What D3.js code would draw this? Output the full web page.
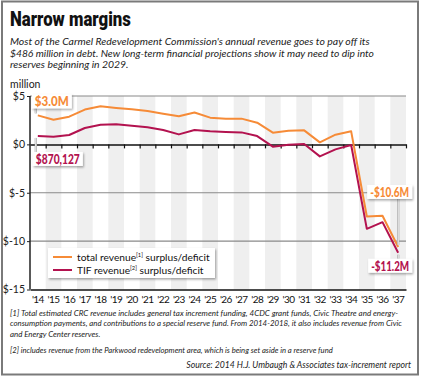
<!DOCTYPE html>
<html><head><meta charset="utf-8">
<script src="https://cdn.jsdelivr.net/npm/d3@7"></script>
<style>
body{margin:0;background:#fff;}
svg{display:block;font-family:Lato,"Open Sans",sans-serif;}
</style></head><body>
<svg id="c" width="423" height="378"></svg>
<script>
const years = ["'14","'15","'16","'17","'18","'19","'20","'21","'22","'23","'24","'25","'26","'27","'28","'29","'30","'31","'32","'33","'34","'35","'36","'37"];
const totalRevenue = [3.0,2.55,2.86,3.6,3.93,3.76,3.62,3.45,3.17,2.9,3.3,2.76,2.66,2.66,2.24,1.21,1.41,1.45,0.21,1.0,1.35,-7.45,-7.38,-10.6];
const tifRevenue = [0.87,0.8,0.97,1.69,2.03,2.07,1.93,1.76,1.48,1.03,1.48,1.35,1.28,1.24,0.86,-0.24,-0.03,0.03,-1.24,-0.52,-0.07,-8.73,-8.04,-11.2];
const yTicks = [5,0,-5,-10,-15];
const title = "Narrow margins";
const subtitle = ["Most of the Carmel Redevelopment Commission's annual revenue goes to pay off its",
 "$486 million in debt. New long-term financial projections show it may need to dip into",
 "reserves beginning in 2029."];
const notes1 = ["[1] Total estimated CRC revenue includes general tax increment funding, 4CDC grant funds, Civic Theatre and energy-",
 "consumption payments, and contributions to a special reserve fund. From 2014-2018, it also includes revenue from Civic",
 "and Energy Center reserves."];
const note2 = "[2] includes revenue from the Parkwood redevelopment area, which is being set aside in a reserve fund";
const source = "Source: 2014 H.J. Umbaugh & Associates tax-increment report";
const callouts = [
 {series:"total", idx:0, text:"$3.0M"},
 {series:"tif", idx:0, text:"$870,127"},
 {series:"total", idx:23, text:"-$10.6M"},
 {series:"tif", idx:23, text:"-$11.2M"}
];

const ORANGE="#f68b37", CRIMSON="#b3124f";
const svg = d3.select("#c");
const defs = svg.append("defs");
const f = defs.append("filter").attr("id","sh").attr("x","-20%").attr("y","-30%").attr("width","150%").attr("height","180%");
f.append("feDropShadow").attr("dx",1).attr("dy",1.5).attr("stdDeviation",1.2).attr("flood-color","#000").attr("flood-opacity",0.35);

function fit(sel, target){
 const n = sel.node(); const s = +sel.attr("font-size");
 const w = n.getComputedTextLength();
 if (w>0) sel.attr("font-size", (s*target/w).toFixed(2));
 return sel;
}

// frame
svg.append("rect").attr("x",2).attr("y",1.5).attr("width",416).attr("height",373).attr("fill","none").attr("stroke","#7a7a7a").attr("stroke-width",2);

// title (horizontally condensed to match reference)
{
 const t = svg.append("text").attr("x",0).attr("y",0).attr("font-family","Roboto,Lato,sans-serif").attr("font-weight",900).attr("font-size",21).attr("fill","#111").text(title);
 const w = t.node().getComputedTextLength();
 t.attr("transform",`translate(10,26) scale(${121/w},1)`);
}
const subW=[360,364,117];
svg.append("g").selectAll("text").data(subtitle).join("text")
 .attr("x",10).attr("y",(d,i)=>45+i*11.6).attr("font-size",11).attr("font-style","italic").attr("fill","#222").text(d=>d)
 .each(function(d,i){ if(i<2) fit(d3.select(this),subW[i]); else d3.select(this).attr("font-size",10.4); });

const L=30, R=406, T=96, B=289.5;
const x = d3.scaleBand().domain(years).range([L,R]).padding(0);
const xi = d3.scaleLinear().domain([0,years.length]).range([L,R]);
const y = d3.scaleLinear().domain([-15,5]).range([B,T]);

// bands
svg.append("g").selectAll("rect").data(years.filter((d,i)=>i%2===1)).join("rect")
 .attr("x",d=>x(d)).attr("y",T).attr("width",x.bandwidth()).attr("height",B-T).attr("fill","#efefef");

// grid
svg.append("g").selectAll("line").data([5,-5,-10]).join("line")
 .attr("x1",L).attr("x2",R).attr("y1",d=>y(d)).attr("y2",d=>y(d)).attr("stroke","#8a8a8a").attr("stroke-width",1.2);

svg.append("text").attr("x",10).attr("y",88).attr("font-size",10.5).attr("fill","#222").text("million");

// y axis
const ya = svg.append("g").attr("transform",`translate(${L},0)`).call(d3.axisLeft(y).tickValues(yTicks).tickFormat(d=>"$"+d).tickSize(3).tickPadding(2));
ya.select(".domain").remove();
ya.selectAll("text").attr("font-size",10.5).attr("font-family","Lato,sans-serif").attr("fill","#222");
ya.selectAll("line").attr("stroke","#222");
svg.append("line").attr("x1",L).attr("x2",L).attr("y1",T).attr("y2",B).attr("stroke","#222").attr("stroke-width",1.5);

// zero line with ticks
const za = svg.append("g").attr("transform",`translate(0,${y(0)})`).call(d3.axisBottom(xi).tickValues(d3.range(1,years.length+1)).tickFormat("").tickSize(4).tickSizeOuter(0));
za.select(".domain").attr("stroke","#111").attr("stroke-width",1.5);
za.selectAll("line").attr("stroke","#111").attr("stroke-width",1.2);

// bottom axis
const xa = svg.append("g").attr("transform",`translate(0,${B})`).call(d3.axisBottom(x).tickSize(0).tickPadding(6));
xa.select(".domain").attr("stroke","#111").attr("stroke-width",1.5);
xa.selectAll("text").attr("font-size",10).attr("font-family","Lato,sans-serif").attr("fill","#111").attr("letter-spacing",-0.6);

// lines
const line = d3.line().x((d,i)=>x(years[i])+x.bandwidth()/2).y(d=>y(d));
svg.append("path").datum(totalRevenue).attr("d",line).attr("fill","none").attr("stroke",ORANGE).attr("stroke-width",2).attr("stroke-linejoin","round");
svg.append("path").datum(tifRevenue).attr("d",line).attr("fill","none").attr("stroke",CRIMSON).attr("stroke-width",2).attr("stroke-linejoin","round");

// callouts
const series = {total:totalRevenue, tif:tifRevenue};
const offsets = {"0total":{dx:-6,dy:-21,lx:-2,w:34}, "0tif":{dx:-5,dy:16,lx:-2,w:44}, "23total":{dx:-31,dy:-62,lx:0,w:39}, "23tif":{dx:-30,dy:6,lx:0,w:38}};
callouts.forEach(c=>{
 const v = series[c.series][c.idx];
 const px = x(years[c.idx])+x.bandwidth()/2, py = y(v);
 const o = offsets[c.idx+c.series];
 const col = c.series==="total"?ORANGE:CRIMSON;
 const g = svg.append("g");
 const t = g.append("text").attr("x",0).attr("y",0).attr("font-size",13.5).attr("font-weight",900).attr("font-family","Lato,sans-serif").attr("fill",col).text(c.text);
 const tw = t.node().getComputedTextLength();
 const w = o.w;
 const bx = px+o.dx, by = py+o.dy, bh = 14;
 const ly1 = o.dy<0 ? by+bh : by;
 g.insert("line","text").attr("x1",px+o.lx).attr("x2",px+o.lx).attr("y1",ly1).attr("y2",o.dy<0?py-2:py+2).attr("stroke","#999").attr("stroke-width",2.2);
 g.insert("line","text").attr("x1",px+o.lx).attr("x2",px+o.lx).attr("y1",ly1).attr("y2",o.dy<0?py-2:py+2).attr("stroke","#fff").attr("stroke-width",1);
 g.insert("rect","text").attr("x",bx).attr("y",by).attr("width",w+6).attr("height",bh).attr("fill","#fff").attr("filter","url(#sh)");
 t.attr("transform",`translate(${bx+3},${by+12}) scale(${w/tw},1)`);
});

// legend
const lg = svg.append("g");
lg.append("rect").attr("x",48).attr("y",248).attr("width",167).attr("height",30).attr("fill","#fff").attr("filter","url(#sh)");
const items=[{c:ORANGE,a:"total revenue",s:"[1]"},{c:CRIMSON,a:"TIF revenue",s:"[2]"}];
items.forEach((it,i)=>{
 const yy = 257+i*13;
 lg.append("line").attr("x1",53).attr("x2",72).attr("y1",yy).attr("y2",yy).attr("stroke",it.c).attr("stroke-width",2);
 const t = lg.append("text").attr("x",77).attr("y",yy+4).attr("font-size",10.2).attr("fill","#111");
 t.append("tspan").text(it.a);
 t.append("tspan").attr("font-size",5.8).attr("dy",-4).text(it.s);
 t.append("tspan").attr("dy",4).text(" surplus/deficit");
});

// notes
const nW=[388,392,100];
svg.append("g").selectAll("text").data(notes1).join("text")
 .attr("x",10).attr("y",(d,i)=>315.5+i*10.5).attr("font-size",8).attr("font-style","italic").attr("fill","#222").text(d=>d)
 .each(function(d,i){ if(i<2) fit(d3.select(this),nW[i]); else d3.select(this).attr("font-size",7.9); });
fit(svg.append("text").attr("x",10).attr("y",353).attr("font-size",8).attr("font-style","italic").attr("fill","#222").text(note2),323);
fit(svg.append("text").attr("x",411).attr("y",368).attr("text-anchor","end").attr("font-size",8.5).attr("font-style","italic").attr("fill","#222").text(source),225);
</script></body></html>
